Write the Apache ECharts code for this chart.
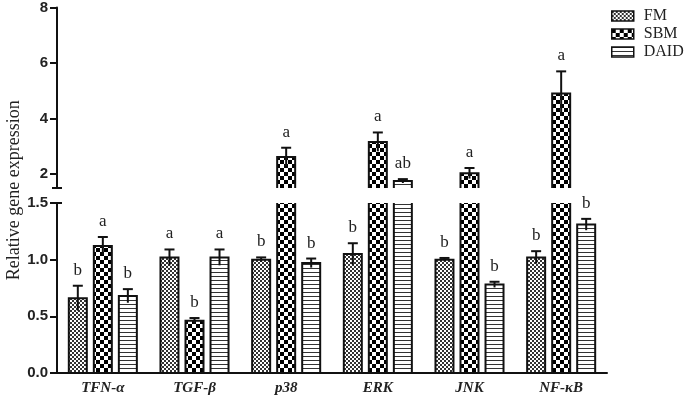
<!DOCTYPE html>
<html>
<head>
<meta charset="utf-8">
<script src="https://cdn.jsdelivr.net/npm/echarts@6/dist/echarts.min.js"></script>
<style>html,body{margin:0;padding:0;background:#fff;}#c{width:685px;height:400px;}</style>
</head>
<body>
<div id="c"></div>
<script>
const categories = ['TFN-α', 'TGF-β', 'p38', 'ERK', 'JNK', 'NF-κB'];
const fm = [0.66, 1.02, 1.00, 1.05, 1.00, 1.02];
const fmErr = [0.11, 0.07, 0.02, 0.095, 0.015, 0.055];
const sbm = [1.12, 0.46, 2.62, 3.16, 2.03, 4.90];
const sbmErr = [0.08, 0.025, 0.33, 0.34, 0.19, 0.80];
const daid = [0.68, 1.02, 0.97, 1.75, 0.78, 1.31];
const daidErr = [0.06, 0.07, 0.04, 0.07, 0.025, 0.05];
const fmLetters = ['b', 'a', 'b', 'b', 'b', 'b'];
const sbmLetters = ['a', 'b', 'a', 'a', 'a', 'a'];
const daidLetters = ['b', 'a', 'b', 'ab', 'b', 'b'];
const lowerTicks = [0, 0.5, 1.0, 1.5];
const upperTicks = [2, 4, 6, 8];
const breakValue = 1.5;
const upperMax = 8;

function makePattern(kind) {
  const c = document.createElement('canvas');
  let ctx;
  if (kind === 'fine') {
    c.width = 4; c.height = 4; ctx = c.getContext('2d');
    ctx.fillStyle = '#fff'; ctx.fillRect(0, 0, 4, 4);
    ctx.fillStyle = '#333';
    ctx.fillRect(0, 0, 2, 2); ctx.fillRect(2, 2, 2, 2);
  } else if (kind === 'checker') {
    c.width = 8; c.height = 8; ctx = c.getContext('2d');
    ctx.fillStyle = '#fff'; ctx.fillRect(0, 0, 8, 8);
    ctx.fillStyle = '#000';
    ctx.fillRect(0, 0, 4, 4); ctx.fillRect(4, 4, 4, 4);
  } else {
    c.width = 4; c.height = 4; ctx = c.getContext('2d');
    ctx.fillStyle = '#fff'; ctx.fillRect(0, 0, 4, 4);
    ctx.fillStyle = '#333'; ctx.fillRect(0, 0, 4, 1);
  }
  return { image: c, repeat: 'repeat' };
}

const names = ['FM', 'SBM', 'DAID'];
const values = [fm, sbm, daid];
const errs = [fmErr, sbmErr, daidErr];
const letters = [fmLetters, sbmLetters, daidLetters];
const fills = [makePattern('fine'), makePattern('checker'), makePattern('lines')];
const barWidth = 18, gapRatio = 0.39;
const step = barWidth * (1 + gapRatio);

const serif = '"Liberation Serif", "Times New Roman", serif';
const series = [];
function inGrid(g, v) { return (g === 0) || (g === 1 && v > breakValue); }
// bars (fill only)
[0, 1].forEach(g => {
  names.forEach((n, k) => {
    series.push({
      name: n, type: 'bar', xAxisIndex: g, yAxisIndex: g,
      barWidth: barWidth, barGap: (gapRatio * 100) + '%',
      clip: true, silent: true,
      itemStyle: { color: fills[k], borderColor: '#111', borderWidth: 0 },
      data: values[k].map(v => (inGrid(g, v) ? v : '-'))
    });
  });
});
// borders, error bars, letters
[0, 1].forEach(g => {
  names.forEach((n, k) => {
    const data = [];
    values[k].forEach((v, i) => { if (inGrid(g, v)) data.push([i, v]); });
    series.push({
      name: n, type: 'custom', xAxisIndex: g, yAxisIndex: g, silent: true, z: 5,
      data: data,
      renderItem: function (params, api) {
        const i = api.value(0), v = api.value(1);
        const e = errs[k][i];
        const off = (k - 1) * step;
        const c = api.coord([i, v]);
        const x = c[0] + off;
        const cs = params.coordSys;
        const gridTop = cs.y, gridBot = cs.y + cs.height;
        const xl = x - barWidth / 2, xr = x + barWidth / 2;
        const children = [];
        const showErr = g === 1 || v <= breakValue;
        if (g === 0 && v > breakValue) {
          children.push({ type: 'line', shape: { x1: xl, y1: gridBot, x2: xl, y2: gridTop }, style: { stroke: '#111', lineWidth: 2 } });
          children.push({ type: 'line', shape: { x1: xr, y1: gridBot, x2: xr, y2: gridTop }, style: { stroke: '#111', lineWidth: 2 } });
        } else {
          const yb = g === 0 ? api.coord([i, 0])[1] : gridBot;
          children.push({ type: 'polyline', shape: { points: [[xl, yb], [xl, c[1]], [xr, c[1]], [xr, yb]] }, style: { stroke: '#111', lineWidth: 2, fill: null } });
        }
        if (showErr) {
          const top = api.coord([i, v + e]);
          const bot = api.coord([i, v - e]);
          children.push({ type: 'line', shape: { x1: x, y1: bot[1], x2: x, y2: top[1] }, style: { stroke: '#111', lineWidth: 2 } });
          children.push({ type: 'line', shape: { x1: x - 5, y1: top[1], x2: x + 5, y2: top[1] }, style: { stroke: '#111', lineWidth: 2 } });
          children.push({ type: 'text', style: { x: x, y: top[1] - 7, text: letters[k][i], align: 'center', verticalAlign: 'bottom', font: '17px ' + serif, fill: '#222' } });
        }
        return { type: 'group', children: children };
      }
    });
  });
});

const chart = echarts.init(document.getElementById('c'), null, { renderer: 'canvas' });
const axisLabelStyle = { color: '#222', fontFamily: '"Liberation Sans", Arial, sans-serif', fontWeight: 'bold', fontSize: 15, margin: 9 };
chart.setOption({
  animation: false,
  backgroundColor: '#fff',
  legend: {
    data: names, orient: 'vertical', left: 606, top: 3,
    itemWidth: 22, itemHeight: 10, itemGap: 2, icon: 'rect',
    textStyle: { fontFamily: serif, fontSize: 16, color: '#222', lineHeight: 16, padding: [0, 0, 0, 5] },
    itemStyle: { borderColor: '#111', borderWidth: 1.5 }
  },
  grid: [
    { left: 57, right: 78, top: 203, bottom: 27 },
    { left: 57, right: 78, top: 7, bottom: 212 }
  ],
  xAxis: [
    {
      type: 'category', gridIndex: 0, data: categories,
      axisLine: { lineStyle: { color: '#111', width: 2 } },
      axisTick: { alignWithLabel: true, length: 5, lineStyle: { color: '#111', width: 2 } },
      axisLabel: { color: '#222', fontFamily: serif, fontStyle: 'italic', fontWeight: 'bold', fontSize: 15, margin: 8 },
      z: 6
    },
    { type: 'category', gridIndex: 1, data: categories, show: false }
  ],
  yAxis: [
    {
      type: 'value', gridIndex: 0, min: 0, max: breakValue, interval: 0.5,
      axisLine: { show: true, lineStyle: { color: '#111', width: 2 } },
      axisTick: { show: true, length: 7, lineStyle: { color: '#111', width: 2 } },
      splitLine: { show: false },
      axisLabel: Object.assign({ formatter: v => v.toFixed(1) }, axisLabelStyle)
    },
    {
      type: 'value', gridIndex: 1, min: breakValue, max: upperMax,
      axisLine: { show: true, lineStyle: { color: '#111', width: 2 } },
      axisTick: { show: true, length: 7, customValues: upperTicks, lineStyle: { color: '#111', width: 2 } },
      splitLine: { show: false },
      axisLabel: Object.assign({ customValues: upperTicks, formatter: v => String(v) }, axisLabelStyle)
    }
  ],
  series: series
});

const axisX = chart.convertToPixel({ xAxisIndex: 0 }, 0) - (chart.convertToPixel({ xAxisIndex: 0 }, 1) - chart.convertToPixel({ xAxisIndex: 0 }, 0)) / 2;
const yLowTop = chart.convertToPixel({ yAxisIndex: 0 }, breakValue);
const yUpBot = chart.convertToPixel({ yAxisIndex: 1 }, breakValue);
const yLowBot = chart.convertToPixel({ yAxisIndex: 0 }, 0);
const yUpTop = chart.convertToPixel({ yAxisIndex: 1 }, upperMax);
chart.setOption({
  graphic: [
    { type: 'line', shape: { x1: axisX - 5, y1: yUpBot, x2: axisX + 5, y2: yUpBot }, style: { stroke: '#111', lineWidth: 2 } },
    { type: 'line', shape: { x1: axisX, y1: yLowTop, x2: axisX + 5, y2: yLowTop }, style: { stroke: '#111', lineWidth: 2 } },
    {
      type: 'text', x: 14, y: (yUpTop + yLowBot) / 2, rotation: Math.PI / 2,
      style: { text: 'Relative gene expression', font: '18px ' + serif, fill: '#222', align: 'center', verticalAlign: 'middle' }
    }
  ]
});
</script>
</body>
</html>
